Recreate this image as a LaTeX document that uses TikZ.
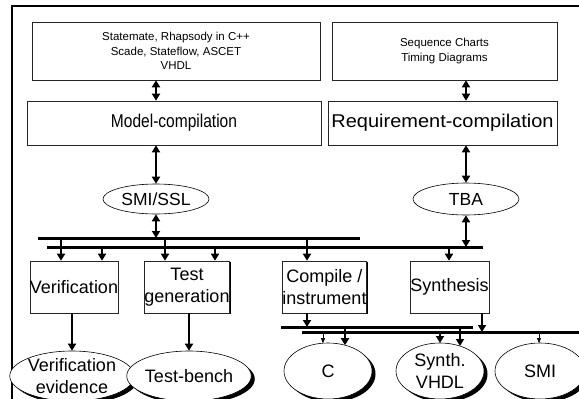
\documentclass[tikz,border=0pt]{standalone}
\usepackage{fontspec}
\setmainfont{Liberation Sans}
\usetikzlibrary{arrows.meta,shapes.geometric,shadows}
\begin{document}
\begin{tikzpicture}[x=1pt,y=-1pt,
  box/.style={draw=black!85, line width=0.6pt, fill=white, inner sep=0pt, align=center},
  lbox/.style={box, drop shadow={shadow xshift=1.2pt, shadow yshift=-1.2pt, fill=black, opacity=1}},
  ell/.style={draw, ellipse, line width=0.6pt, fill=white, inner sep=0pt, align=center},
  sell/.style={ell, drop shadow={shadow xshift=3.5pt, shadow yshift=-3pt, fill=black, opacity=1}},
  bus/.style={line width=3pt},
  dbl/.style={line width=2pt, {Triangle[width=8pt,length=7pt]}-{Triangle[width=8pt,length=7pt]}},
  arr/.style={line width=1.8pt, -{Triangle[width=8pt,length=7pt]}},
  tarr/.style={line width=0.5pt, -{Triangle[width=4pt,length=5pt]}},
  small/.style={font=\fontsize{11.5}{14.5}\selectfont},
  huge/.style={font=\fontsize{18.5}{22}\selectfont},
  big/.style={font=\fontsize{18}{21.5}\selectfont},
  mid/.style={font=\fontsize{17.5}{20}\selectfont}
]
\useasboundingbox (0,0) rectangle (579,399);
\clip (0,0) rectangle (579,399);
\fill[white] (0,0) rectangle (579,399);
% outer frame
\draw[line width=2pt] (12,430) -- (12,6) -- (600,6);

% top boxes
\node[box, small, minimum width=288pt, minimum height=58pt] (tl) at (176,51)
  {Statemate, Rhapsody in C++\\Scade, Stateflow, ASCET\\VHDL};
\node[box, small, minimum width=225pt, minimum height=58pt] (tr) at (444.5,51)
  {Sequence Charts\\Timing Diagrams};
\node[box, huge, minimum width=294pt, minimum height=44pt] (mc) at (174,123)
  {\scalebox{0.84}[1]{Model-compilation}};
\node[box, huge, minimum width=229pt, minimum height=44pt] (rc) at (442.5,123)
  {\scalebox{1.08}[1]{Requirement-compilation}};

% ellipses middle
\node[ell, mid, minimum width=106pt, minimum height=30pt] (smi) at (156,199) {SMI/SSL};
\node[ell, mid, minimum width=106pt, minimum height=32pt] (tba) at (466,199) {TBA};

\draw[dbl] (tl.south -| smi) -- (mc.north -| smi);
\draw[dbl] (tr.south -| tba) -- (rc.north -| tba);
\draw[dbl] (mc.south -| smi) -- (smi.north);
\draw[dbl] (rc.south -| tba) -- (tba.north);

% buses
\coordinate (b1l) at (38,238);
\coordinate (b1r) at (360,238);
\coordinate (b2l) at (47,247);
\coordinate (b2r) at (483,247);
\draw[bus] (b1l) -- (b1r);
\draw[bus] (b2l) -- (b2r);
\draw[dbl] (smi.south) -- (smi.south |- b1l);
\draw[dbl] (tba.south) -- (tba.south |- b2l);

% lower boxes
\node[lbox, big, minimum width=80pt, minimum height=52pt] (ver) at (74,287) {Verification};
\node[lbox, big, minimum width=80pt, minimum height=52pt] (tg) at (187,287) {Test\\generation};
\node[lbox, big, minimum width=79pt, minimum height=52pt] (ci) at (324.5,287) {Compile /\\instrument};
\node[lbox, big, minimum width=79pt, minimum height=52pt] (syn) at (449.5,287) {Synthesis};

\coordinate (p1) at (61,238);
\coordinate (p2) at (102,247);
\coordinate (p3) at (165,238);
\coordinate (p4) at (215,247);
\coordinate (p5) at (307,238);
\coordinate (p6) at (449,247);
\draw[arr] (p1) -- (p1 |- ver.north);
\draw[arr] (p2) -- (p2 |- ver.north);
\draw[arr] (p3) -- (p3 |- tg.north);
\draw[arr] (p4) -- (p4 |- tg.north);
\draw[arr] (p5) -- (p5 |- ci.north);
\draw[arr] (p6) -- (p6 |- syn.north);

% lower buses
\coordinate (b3l) at (281,327);
\coordinate (b3r) at (473,327);
\coordinate (b4l) at (302,332);
\coordinate (b4r) at (600,332);
\draw[bus] (b3l) -- (b3r);
\draw[bus] (b4l) -- (b4r);

% output ellipses
\node[sell, big, minimum width=86pt, minimum height=50pt] (ve) at (72,376) {Verification\\evidence};
\node[sell, big, minimum width=92pt, minimum height=50pt] (tb) at (189,376) {Test-bench};
\node[sell, big, minimum width=88pt, minimum height=56pt] (c) at (328,371) {C};
\node[sell, big, minimum width=88pt, minimum height=56pt] (sv) at (440,371) {Synth.\\VHDL};
\node[sell, big, minimum width=90pt, minimum height=56pt] (sm) at (540,371) {SMI};

\draw[arr] (ver.south -| ve) -- (ve.north);
\draw[arr] (tg.south -| tb) -- (tb.north);
\coordinate (q1) at (307,313);
\draw[arr] (q1) -- (q1 |- b3l);
\coordinate (q2) at (482,313);
\draw[arr] (q2) -- (q2 |- b4l);

\coordinate (cA) at ([shift={(-5,-27.8)}]c.center);
\coordinate (cB) at ([shift={(17,-25.8)}]c.center);
\coordinate (sA) at ([shift={(0,-28)}]sv.center);
\coordinate (sB) at ([shift={(20,-25)}]sv.center);
\coordinate (mA) at ([shift={(-1,-28)}]sm.center);
\draw[tarr] (cA |- b4l) -- (cA);
\draw[arr] (cB |- b3l) -- (cB);
\draw[arr] (sA |- b4l) -- (sA);
\draw[arr] (sB |- b3l) -- (sB);
\draw[tarr] (mA |- b4l) -- (mA);
\end{tikzpicture}
\end{document}
